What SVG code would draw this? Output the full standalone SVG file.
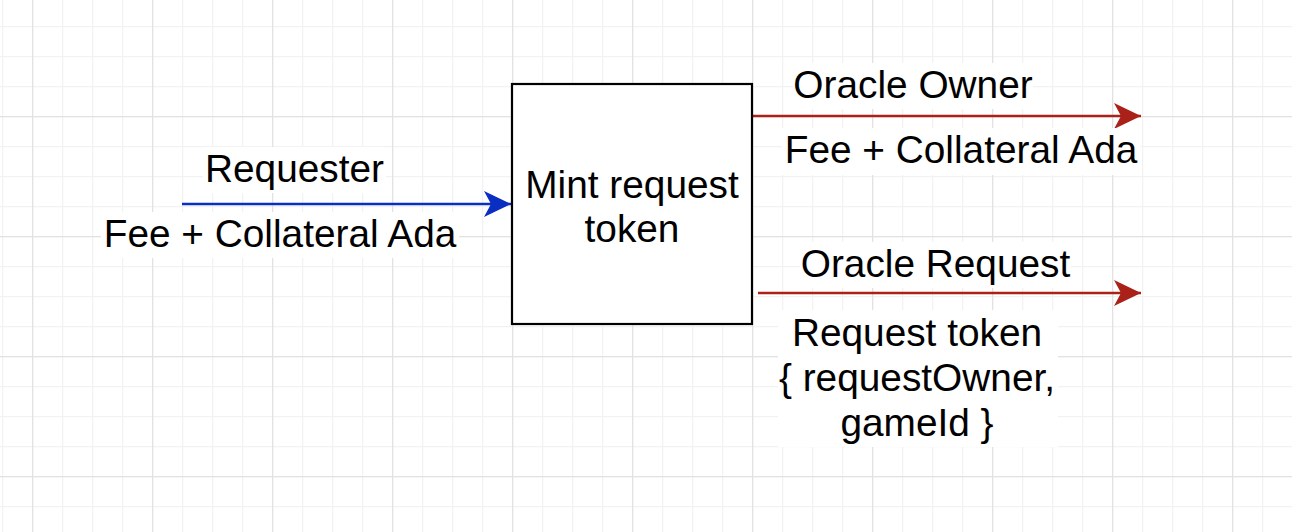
<svg xmlns="http://www.w3.org/2000/svg" width="1292" height="532" viewBox="0 0 1292 532">
<style>
  .t { font-family: "Liberation Sans", Arial, Helvetica, sans-serif; font-size: 38.8px; fill: #000; text-anchor: middle; }
  .bg { fill: #ffffff; }
  .blue { stroke: #0A2EC2; stroke-width: 2.5; fill: none; }
  .red { stroke: #AA2119; stroke-width: 2.5; fill: none; }
</style>
<defs>
  <pattern id="minor" patternUnits="userSpaceOnUse" x="2" y="26" width="30" height="30">
    <path d="M0.5,0 V30 M0,0.5 H30" stroke="#f2f2f2" stroke-width="1.5" fill="none"/>
  </pattern>
  <pattern id="major" patternUnits="userSpaceOnUse" x="32" y="116" width="120" height="120">
    <path d="M0.5,0 V120 M0,0.5 H120" stroke="#e2e2e2" stroke-width="1.5" fill="none"/>
  </pattern>
  <marker id="arrBlue" markerUnits="userSpaceOnUse" markerWidth="30" markerHeight="30" refX="27" refY="13" orient="auto" viewBox="0 0 30 26">
    <path d="M27,13 L0,0 L7,13 L0,26 Z" fill="#0A2EC2"/>
  </marker>
  <marker id="arrRed" markerUnits="userSpaceOnUse" markerWidth="30" markerHeight="30" refX="27" refY="13" orient="auto" viewBox="0 0 30 26">
    <path d="M27,13 L0,0 L7,13 L0,26 Z" fill="#AA2119"/>
  </marker>
</defs>
<rect width="1292" height="532" fill="#ffffff"/>
<rect width="1292" height="532" fill="url(#minor)"/>
<rect width="1292" height="532" fill="url(#major)"/>

<g id="connectors">
  <path class="blue" d="M182,204 H511" marker-end="url(#arrBlue)"/>
  <path class="red" d="M752,116 H1141" marker-end="url(#arrRed)"/>
  <path class="red" d="M758,293 H1141" marker-end="url(#arrRed)"/>
</g>

<g id="mint">
  <rect x="512" y="84" width="240" height="240" fill="#ffffff" stroke="#000000" stroke-width="2.2"/>
  <text class="t" x="632" y="198">Mint request</text>
  <text class="t" x="632" y="242">token</text>
</g>

<g id="label-requester">
  <rect class="bg" x="203" y="147" width="183" height="46"/>
  <text class="t" x="294.5" y="182">Requester</text>
</g>
<g id="label-fee-in">
  <rect class="bg" x="101" y="212" width="358" height="46"/>
  <text class="t" x="280" y="247">Fee + Collateral Ada</text>
</g>
<g id="label-oracle-owner">
  <rect class="bg" x="793" y="63" width="240" height="46"/>
  <text class="t" x="913" y="98">Oracle Owner</text>
</g>
<g id="label-fee-out">
  <rect class="bg" x="782" y="128" width="358" height="47"/>
  <text class="t" x="961" y="163">Fee + Collateral Ada</text>
</g>
<g id="label-oracle-request">
  <rect class="bg" x="800" y="242" width="271" height="46"/>
  <text class="t" x="935.5" y="277">Oracle Request</text>
</g>
<g id="label-request-token">
  <rect class="bg" x="778" y="310" width="280" height="137"/>
  <text class="t" x="917" y="346">Request token</text>
  <text class="t" x="917" y="391">{ requestOwner,</text>
  <text class="t" x="917" y="436">gameId }</text>
</g>
</svg>
